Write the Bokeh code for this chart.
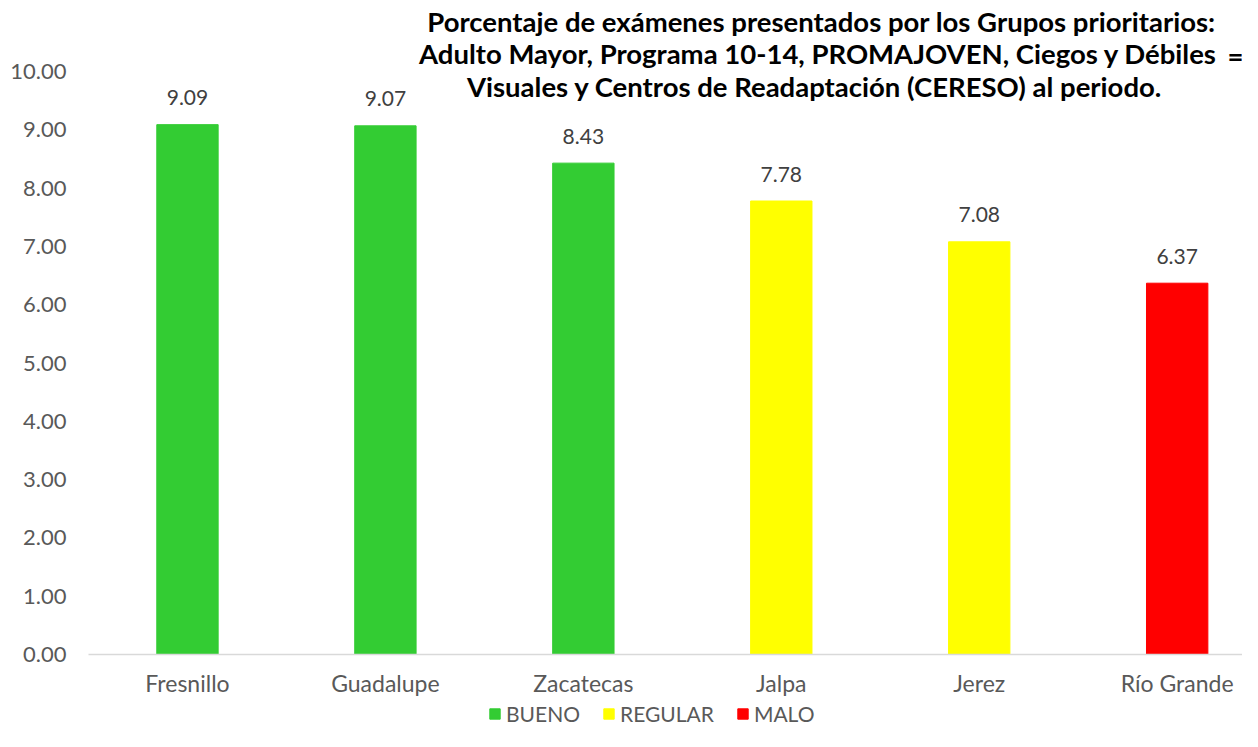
from bokeh.plotting import figure
from bokeh.layouts import column
from bokeh.models import (Range1d, FixedTicker, NumeralTickFormatter, Label,
                          ColumnDataSource)
from bokeh.embed import file_html
from bokeh.resources import INLINE
from bokeh.core.properties import value

# ---- data ----
categories = ["Fresnillo", "Guadalupe", "Zacatecas", "Jalpa", "Jerez", "Río Grande"]
values = [9.09, 9.07, 8.43, 7.78, 7.08, 6.37]
ratings = ["BUENO", "BUENO", "BUENO", "REGULAR", "REGULAR", "MALO"]
rating_colors = {"BUENO": "#33CC33", "REGULAR": "#FFFF00", "MALO": "#FF0000"}
y_ticks = [0, 1, 2, 3, 4, 5, 6, 7, 8, 9, 10]
title_lines = [
    "Porcentaje de exámenes presentados por los Grupos prioritarios:",
    "Adulto Mayor, Programa 10-14,  PROMAJOVEN, Ciegos y Débiles",
    "Visuales y  Centros de Readaptación (CERESO) al  periodo.",
]

FONT = "Lato"
x_pos = [i + 0.5 for i in range(len(categories))]
source = ColumnDataSource(dict(
    x=x_pos, top=values, rating=ratings,
    color=[rating_colors[r] for r in ratings],
    label=["%.2f" % v for v in values],
))

p = figure(width=1242, height=701, output_backend="svg", toolbar_location=None,
           x_range=Range1d(0, 5.83), y_range=Range1d(0, 11.22),
           min_border_left=88, min_border_right=0, min_border_top=0,
           min_border_bottom=47)
p.title.visible = False
p.outline_line_color = None
p.grid.visible = False
p.background_fill_color = "white"
p.border_fill_color = "white"

p.vbar(x="x", top="top", width=0.31, color="color", source=source)
p.text(x="x", y="top", text="label", source=source, text_align="center",
       text_baseline="middle", y_offset=-27, text_font=value(FONT),
       text_font_size="21px", text_color="#404040")

# axes
p.yaxis.ticker = FixedTicker(ticks=y_ticks)
p.yaxis.formatter = NumeralTickFormatter(format="0.00")
p.yaxis.axis_line_color = None
p.yaxis.major_tick_line_color = None
p.yaxis.minor_tick_line_color = None
p.yaxis.major_label_standoff = 16
p.yaxis.major_label_text_font = FONT
p.yaxis.major_label_text_font_size = "22px"
p.yaxis.major_label_text_color = "#595959"

p.xaxis.ticker = FixedTicker(ticks=x_pos)
p.xaxis.major_label_overrides = {x: c for x, c in zip(x_pos, categories)}
p.xaxis.axis_line_color = "#D9D9D9"
p.xaxis.axis_line_width = 1.5
p.xaxis.major_tick_line_color = None
p.xaxis.minor_tick_line_color = None
p.xaxis.major_label_standoff = 8
p.xaxis.major_label_text_font = FONT
p.xaxis.major_label_text_font_size = "23px"
p.xaxis.major_label_text_color = "#595959"

# title (three bold centred lines) and the stray "=" sign
title_y = [633, 601, 568]
for line, yy in zip(title_lines, title_y):
    p.add_layout(Label(x=733, y=yy, x_units="screen", y_units="screen",
                       text=line, text_align="center", text_baseline="middle",
                       text_font=FONT, text_font_style="bold",
                       text_font_size="27.5px", text_color="black"))
p.add_layout(Label(x=1147, y=599, x_units="screen", y_units="screen",
                   text="=", text_align="center", text_baseline="middle",
                   text_font=FONT, text_font_style="bold",
                   text_font_size="27.5px", text_color="black"))

# legend strip below the chart (its glyphs sit outside the visible range)
lg = figure(width=1242, height=30, output_backend="svg", toolbar_location=None,
            x_range=Range1d(-20, -19), y_range=Range1d(0, 1),
            min_border=0, x_axis_location=None, y_axis_location=None)
lg.title.visible = False
lg.outline_line_color = None
lg.grid.visible = False
lg.vbar(x="x", top="top", width=0.31, color="color", source=source,
        legend_field="rating")
leg = lg.legend[0]
leg.orientation = "horizontal"
leg.location = (400, 5)
leg.border_line_color = None
leg.background_fill_alpha = 0
leg.glyph_width = 13
leg.glyph_height = 13
leg.label_text_font = FONT
leg.label_text_font_size = "21px"
leg.label_text_color = "#595959"
leg.label_height = 20
leg.label_standoff = 5
leg.spacing = 22
leg.padding = 0
leg.margin = 0

layout = column(p, lg, spacing=0)
open("out.html", "w").write(file_html(layout, INLINE))
